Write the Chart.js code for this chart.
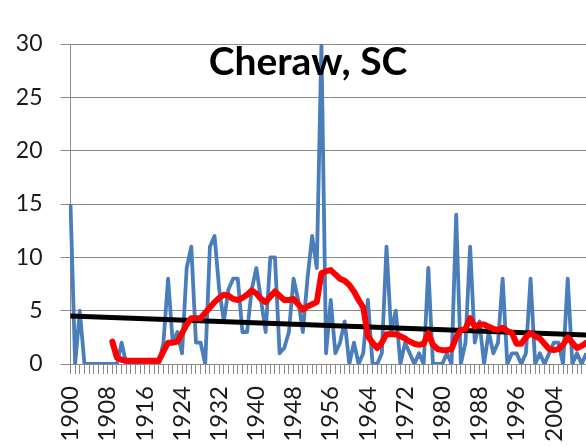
<!DOCTYPE html>
<html><head><meta charset="utf-8">
<script src="https://cdn.jsdelivr.net/npm/chart.js@4"></script>
<style>
html,body{margin:0;padding:0;background:#fff;overflow:hidden;width:586px;height:447px}
#wrap{position:absolute;left:0;top:0;width:600px;height:447px}
</style>
</head><body><div id="wrap"><canvas id="c"></canvas></div>
<script>
const titleText = 'Cheraw, SC';
const years = ['1900','1901','1902','1903','1904','1905','1906','1907','1908','1909',
'1910','1911','1912','1913','1914','1915','1916','1917','1918','1919',
'1920','1921','1922','1923','1924','1925','1926','1927','1928','1929',
'1930','1931','1932','1933','1934','1935','1936','1937','1938','1939',
'1940','1941','1942','1943','1944','1945','1946','1947','1948','1949',
'1950','1951','1952','1953','1954','1955','1956','1957','1958','1959',
'1960','1961','1962','1963','1964','1965','1966','1967','1968','1969',
'1970','1971','1972','1973','1974','1975','1976','1977','1978','1979',
'1980','1981','1982','1983','1984','1985','1986','1987','1988','1989',
'1990','1991','1992','1993','1994','1995','1996','1997','1998','1999',
'2000','2001','2002','2003','2004','2005','2006','2007','2008','2009',
'2010','2011'];
const tickYears = ['1900','1908','1916','1924','1932','1940','1948','1956','1964','1972','1980','1988','1996','2004'];
// annual values
const annual = [15,0,5,0,0,0,0,0,0,0,
0,2,0,0,0,0,0,0,0,0,
2,8,2,3,1,9,11,2,2,0,
11,12,7,4,7,8,8,3,3,7,
9,6,3,10,10,1,1.5,3,8,6,
3,8,12,9,30,1,6,1,2,4,
0,2,0,1,6,0,0,1,11,3,
5,0,2,1,0,1,0,9,0,0,
0,1,0,14,0,2,11,2,4,0,
3,1,2,8,0,1,1,0,1,8,
0,1,0,1,2,2,0,8,0,1,
0,1];
// moving average (red)
const movingAvg = [null,null,null,null,null,null,null,null,null,2.1,
0.6,0.4,0.3,0.3,0.3,0.3,0.3,0.3,0.3,0.3,
1.2,2.0,2.0,2.1,2.9,3.7,4.3,4.3,4.3,4.8,
5.3,5.8,6.2,6.5,6.4,6.1,6.0,6.2,6.5,6.9,
6.6,6.1,5.8,6.3,6.8,6.4,6.0,6.0,6.1,5.6,
5.1,5.4,5.6,5.8,8.5,8.7,8.8,8.4,8.0,7.8,
7.4,6.8,6.0,5.3,2.6,2.0,1.5,2.0,2.8,2.8,
2.8,2.6,2.4,2.1,1.9,1.8,1.9,2.9,1.8,1.4,
1.3,1.3,1.4,2.5,3.2,3.3,4.3,3.5,3.7,3.7,
3.5,3.3,3.2,3.4,3.1,2.9,1.9,1.9,2.5,2.9,
2.6,2.4,1.9,1.4,1.3,1.4,1.8,2.5,2.0,1.5,
1.7,2.0];
// linear trend end points (1900 and 2011)
const trend = [4.5].concat(new Array(110).fill(null)).concat([2.72]);

const titlePlugin = {
  id: 'insideTitle',
  afterDatasetsDraw(chart) {
    const ctx = chart.ctx, a = chart.chartArea;
    ctx.save();
    ctx.font = 'bold 39px Lato';
    ctx.fillStyle = '#000';
    ctx.textAlign = 'center';
    ctx.textBaseline = 'middle';
    ctx.fillText(titleText, 308, a.top + 18);
    ctx.restore();
  }
};

new Chart(document.getElementById('c'), {
  type: 'line',
  data: {
    labels: years,
    datasets: [
      {label: 'Average', data: movingAvg, borderColor: '#FF0000', borderWidth: 6, pointRadius: 0, tension: 0, order: 0, borderJoinStyle: 'round', borderCapStyle: 'round'},
      {label: 'Trend', data: trend, borderColor: '#000000', borderWidth: 5, pointRadius: 0, tension: 0, spanGaps: true, order: 1},
      {label: 'Annual', data: annual, borderColor: '#4A7EBB', borderWidth: 3.8, pointRadius: 0, tension: 0, order: 2, borderJoinStyle: 'round'}
    ]
  },
  options: {
    responsive: true,
    maintainAspectRatio: false,
    animation: false,
    layout: {padding: {top: 44, right: 13.7, bottom: 0, left: 0}},
    plugins: {legend: {display: false}, tooltip: {enabled: false}, title: {display: false}},
    scales: {
      x: {
        grid: {display: true, drawOnChartArea: false, drawTicks: true, tickLength: 10, color: '#8a8a8a'},
        border: {display: true, color: '#8a8a8a', width: 1},
        ticks: {
          autoSkip: false, minRotation: 90, maxRotation: 90, padding: 12,
          font: {family: 'Lato', size: 24}, color: '#1a1a1a',
          callback: function(v, i) { return tickYears.includes(years[i]) ? years[i] : ''; }
        },
        afterFit: function(s) { s.height = 83; s.paddingLeft = 0; s.paddingRight = 0; }
      },
      y: {
        min: 0, max: 30,
        grid: {color: '#8a8a8a', tickLength: 10, lineWidth: 1},
        border: {display: true, color: '#8a8a8a'},
        ticks: {stepSize: 5, padding: 18, font: {family: 'Lato', size: 23}, color: '#1a1a1a'},
        afterFit: function(s) { s.width = 70.5; s.paddingTop = 0; s.paddingBottom = 0; }
      }
    }
  },
  plugins: [titlePlugin]
});
</script>
</body></html>
